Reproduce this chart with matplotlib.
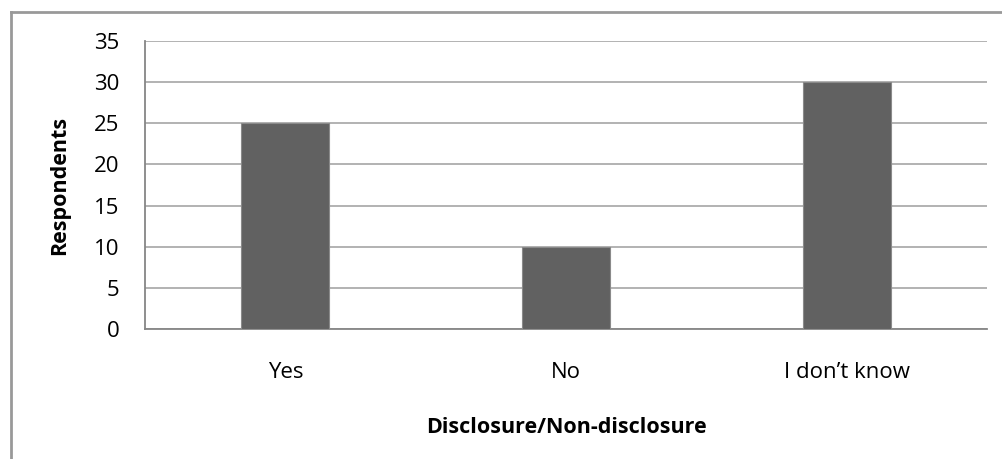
import matplotlib.pyplot as plt
from matplotlib.lines import Line2D

# data
categories = ["Yes", "No", "I don\u2019t know"]
respondents = [25, 10, 30]
y_ticks = [0, 5, 10, 15, 20, 25, 30, 35]

plt.rcParams['font.family'] = ['Open Sans', 'DejaVu Sans']

W, H = 1002, 459
fig = plt.figure(figsize=(W / 100, H / 100), dpi=100)
ax = fig.add_axes([145 / W, 1 - 329 / H, 842 / W, 288 / H])

x = range(len(categories))
ax.bar(x, respondents, width=0.313, color='#616161', edgecolor='#8a8a8a',
       linewidth=0.8, zorder=3)

ax.set_xlim(-0.5, len(categories) - 0.5)
ax.set_ylim(0, 35)
ax.set_yticks(y_ticks)
ax.set_xticks(list(x))
ax.set_xticklabels(categories)
ax.grid(axis='y', color='#a6a6a6', linewidth=1.2, zorder=0)
ax.set_axisbelow(True)

for side in ['top', 'right']:
    ax.spines[side].set_visible(False)
for side in ['left', 'bottom']:
    ax.spines[side].set_color('#868686')
    ax.spines[side].set_linewidth(1.3)

ax.tick_params(axis='both', length=0, labelsize=16, colors='black')
ax.tick_params(axis='y', pad=18.5)
ax.tick_params(axis='x', pad=23.5)

ax.set_ylabel("Respondents", fontsize=15.5, fontweight='bold', labelpad=17)
ax.set_xlabel("Disclosure/Non-disclosure", fontsize=15.5, fontweight='bold', labelpad=25)

# outer chart border (only left and top visible in the crop)
fig.add_artist(Line2D([11 / W, 11 / W], [0, 1 - 12 / H], transform=fig.transFigure,
                      color='#999999', linewidth=2))
fig.add_artist(Line2D([11 / W, 1], [1 - 12 / H, 1 - 12 / H], transform=fig.transFigure,
                      color='#999999', linewidth=2))

fig.savefig('out.png', dpi=100, facecolor='white')
